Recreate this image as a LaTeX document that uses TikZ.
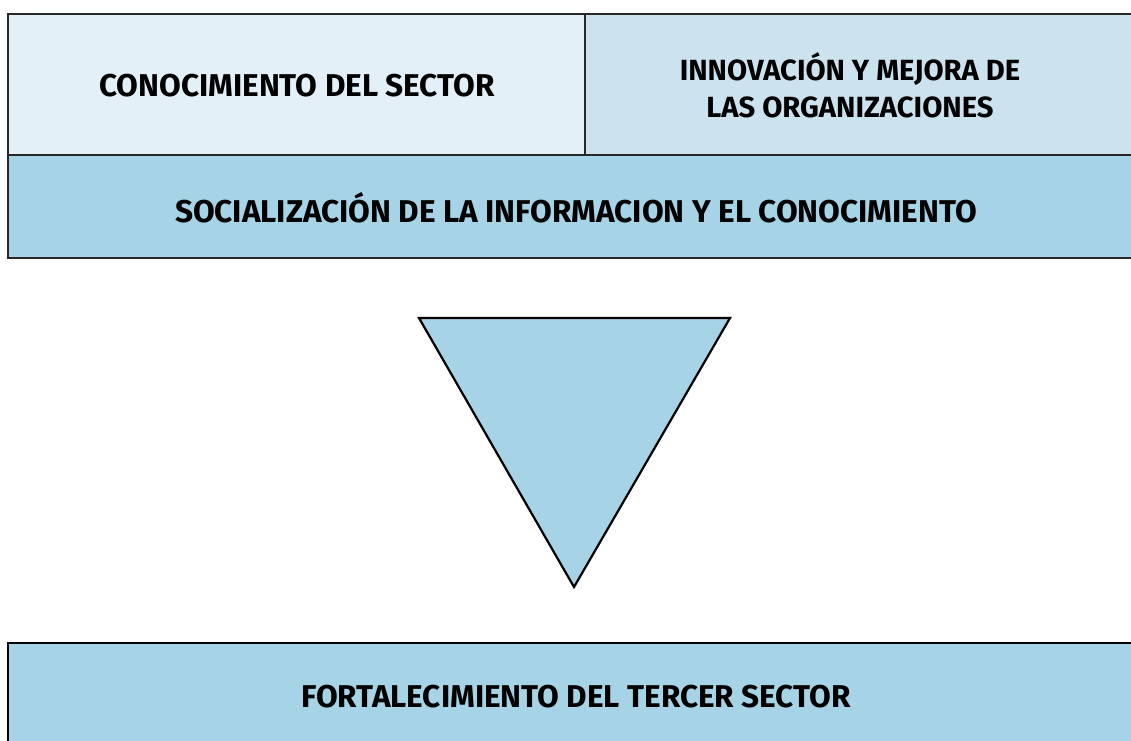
\documentclass[tikz,border=0pt]{standalone}
\usepackage{fontspec}
\setmainfont{Fira Sans}
\definecolor{lightA}{RGB}{228,240,247}
\definecolor{lightB}{RGB}{204,227,239}
\definecolor{midblue}{RGB}{166,211,230}
\definecolor{edge}{RGB}{40,40,40}
\tikzset{
  boxstyle/.style={draw=edge, line width=1.4pt},
  lbl/.style={font=\fontsize{31.5}{36.5}\selectfont\bfseries, text=black, align=center, inner sep=0pt},
  lblsmall/.style={lbl, font=\fontsize{29.2}{36.7}\selectfont\bfseries},
}
\begin{document}
\begin{tikzpicture}[x=1pt,y=-1pt]
\useasboundingbox (0,0) rectangle (1131,740);
\clip (0,0) rectangle (1131,740);
% top boxes
\path[boxstyle, fill=lightA] (8,14) rectangle (585,155);
\path[boxstyle, fill=lightB] (585,14) rectangle (1145,155);
\path[boxstyle, fill=midblue] (8,155) rectangle (1145,258);
% triangle
\path[draw=black, line width=2.2pt, fill=midblue, line join=miter] (419,318) -- (730,318) -- (574,587) -- cycle;
% bottom box
\path[boxstyle, draw=black, fill=midblue] (8,643) rectangle (1145,760);
% labels
\node[lbl] (t1) at (297,86) {CONOCIMIENTO DEL SECTOR};
\node[lblsmall] (t2) at (850,85) {INNOVACIÓN Y MEJORA DE\\LAS ORGANIZACIONES};
\node[lbl] (t3) at (576,208) {SOCIALIZACIÓN DE LA INFORMACION Y EL CONOCIMIENTO};
\node[lbl] (t4) at (576,697) {FORTALECIMIENTO DEL TERCER SECTOR};
\end{tikzpicture}
\end{document}
